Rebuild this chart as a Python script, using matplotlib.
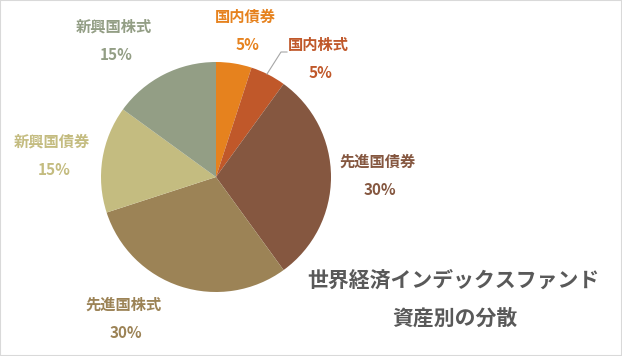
import matplotlib.pyplot as plt
from matplotlib.patches import Rectangle

plt.rcParams['font.family'] = ['Noto Sans CJK JP', 'DejaVu Sans']

labels = ['国内債券', '国内株式', '先進国債券', '先進国株式', '新興国債券', '新興国株式']
values = [5, 5, 30, 30, 15, 15]
colors = ['#E6821E', '#C0582A', '#855740', '#9C8356', '#C4BC80', '#939E85']
title_lines = ['世界経済インデックスファンド', '資産別の分散']

# label positions in pixels (x, y from top)
label_pos = [(245, 17), (318, 45), (378, 162), (124, 305), (52, 142), (114, 27)]

W, H = 622, 356
fig = plt.figure(figsize=(W / 100, H / 100), dpi=100)
ax = fig.add_axes([0, 0, 1, 1])

ax.pie(values, colors=colors, startangle=90, counterclock=False,
       center=(216, H - 177), radius=115,
       wedgeprops=dict(linewidth=0))

for lab, v, c, (x, y) in zip(labels, values, colors, label_pos):
    ax.text(x, H - y, lab, color=c, fontsize=11, fontweight='bold',
            ha='center', va='center')
    ax.text(x + 2, H - y - 28, f'{v}%', color=c, fontsize=11, fontweight='bold',
            ha='center', va='center')

# leader line for 国内株式
ax.plot([287, 281, 267], [H - 52, H - 52, H - 74], color='#A6A6A6', lw=0.8)

ax.text(453, H - 280, title_lines[0], color='#595959', fontsize=15,
        fontweight='bold', ha='center', va='center')
ax.text(455, H - 318, title_lines[1], color='#595959', fontsize=15,
        fontweight='bold', ha='center', va='center')

ax.set_xlim(0, W)
ax.set_ylim(0, H)
ax.set_aspect('auto')
ax.axis('off')
fig.patches.append(Rectangle((0, 0), 1, 1, transform=fig.transFigure,
                             fill=False, edgecolor='#D9D9D9', lw=1.5))

fig.savefig('out.png', dpi=100)
